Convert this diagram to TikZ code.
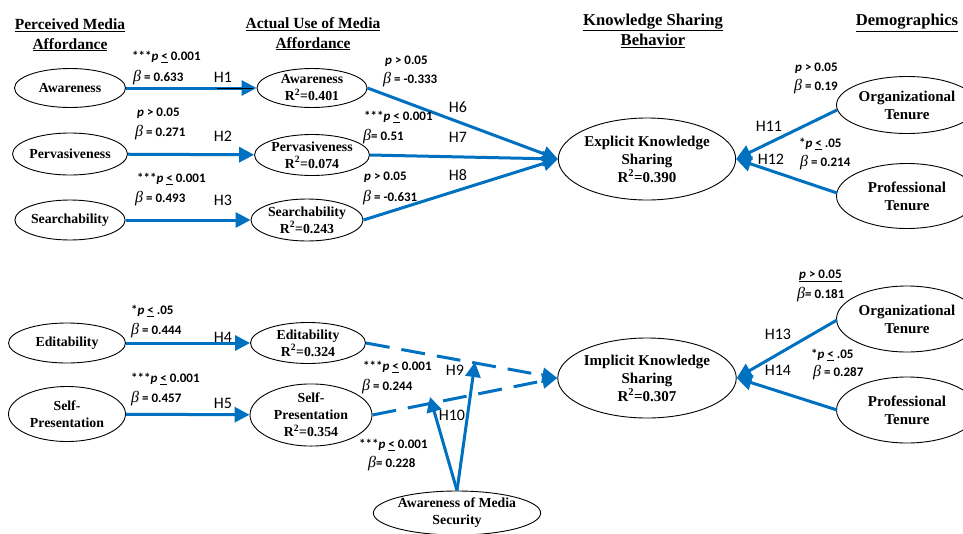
\documentclass[tikz,border=0pt]{standalone}
\usepackage{fontspec}
\setmainfont{Liberation Serif}
\newfontfamily\calib{Carlito}
\newfontfamily\betafont{Liberation Serif}
\usetikzlibrary{shapes.geometric,arrows.meta}
\definecolor{pathblue}{RGB}{0,112,192}

% statistic helpers
\newcommand\bsym{{\betafont\itshape\mdseries\fontsize{16}{16}\selectfont β}}
\newcommand\pit{\textit{p}}
\newcommand\uleq{\underline{<}}

\begin{document}
\begin{tikzpicture}[x=1pt,y=-1pt,
  var/.style={draw=black, line width=0.9pt, ellipse, inner sep=0pt, align=center,
    font=\fontsize{13.8}{17}\selectfont\bfseries},
  bigvar/.style={var, font=\fontsize{15}{18}\selectfont\bfseries},
  hdr/.style={inner sep=0pt, align=center, font=\fontsize{15.5}{19.5}\selectfont\bfseries},
  widehdr/.style={hdr, font=\fontsize{16.6}{20.5}\selectfont\bfseries},
  stat/.style={anchor=west, inner sep=0pt, font=\calib\fontsize{13}{15}\selectfont\bfseries},
  hyp/.style={inner sep=0pt, font=\calib\fontsize{16}{18}\selectfont},
  link/.style={draw=pathblue, line width=3pt, -{Triangle[length=15pt,width=15pt]}},
  modlink/.style={link, dash pattern=on 24pt off 12pt}
]
\useasboundingbox (0,0) rectangle (963,533);
\clip (0,0) rectangle (963,533);

% column headings
\node[hdr] (h1) at (70,35) {\underline{Perceived Media}\\\underline{Affordance}};
\node[hdr] (h2) at (313,34) {\underline{Actual Use of Media}\\\underline{Affordance}};
\node[widehdr] (h3) at (653,31) {\underline{Knowledge Sharing}\\\underline{Behavior}};
\node[widehdr] (h4) at (907,23) {\underline{Demographics}};

% perceived affordances
\node[var, minimum width=111, minimum height=39] (aw) at (70,88) {Awareness};
\node[var, minimum width=110, minimum height=42] (pe) at (70,154) {Pervasiveness};
\node[var, minimum width=110, minimum height=40] (se) at (70,220) {Searchability};
\node[var, minimum width=117, minimum height=40] (ed) at (67,343) {Editability};
\node[var, minimum width=117, minimum height=55] (sp) at (67,414) {Self-\\Presentation};

% actual use
\node[var, minimum width=110, minimum height=39] (aw2) at (312,88) {Awareness\\R\textsuperscript{2}=0.401};
\node[var, minimum width=110, minimum height=41] (pe2) at (312,155) {Pervasiveness\\R\textsuperscript{2}=0.074};
\node[var, minimum width=112, minimum height=42] (se2) at (307,220) {Searchability\\R\textsuperscript{2}=0.243};
\node[var, minimum width=115, minimum height=41] (ed2) at (308,343) {Editability\\R\textsuperscript{2}=0.324};
\node[var, minimum width=122, minimum height=54] (sp2) at (311,415) {Self-\\Presentation\\R\textsuperscript{2}=0.354};

% knowledge sharing
\node[bigvar, minimum width=169, minimum height=82] (eks) at (647,159) {Explicit Knowledge\\Sharing\\R\textsuperscript{2}=0.390};
\node[bigvar, minimum width=169, minimum height=80] (iks) at (647,378) {Implicit Knowledge\\Sharing\\R\textsuperscript{2}=0.307};

% demographics
\node[bigvar, minimum width=141, minimum height=57] (ot1) at (907,105) {Organizational\\Tenure};
\node[bigvar, minimum width=141, minimum height=65] (pt1) at (907,196) {Professional\\Tenure};
\node[bigvar, minimum width=141, minimum height=66] (ot2) at (907,319) {Organizational\\Tenure};
\node[bigvar, minimum width=141, minimum height=66] (pt2) at (907,410) {Professional\\Tenure};

% moderator
\node[var, minimum width=157, minimum height=44] (ams) at (457,513) {Awareness of Media\\Security};

% paths
\draw[link] (aw) -- (aw2);
\coordinate (tickA) at (217,88);
\coordinate (tickB) at (253,88);
\draw[black, line width=0.8pt] (tickA) -- (tickB);
\draw[link] (pe) -- (pe2);
\draw[link] (se.east) -- (se2.west);
\draw[link] (ed) -- (ed2);
\draw[link] (sp) -- (sp2);

\draw[link] (aw2.east) -- (eks.west);
\draw[link] (pe2.east) -- (eks.west);
\draw[link] (se2.east) -- (eks.west);

\coordinate (ot1p) at (837,110);
\coordinate (pt1p) at (837,193);
\coordinate (ot2p) at (837,320);
\coordinate (pt2p) at (837,410);
\draw[link] (ot1p) -- (eks.east);
\draw[link] (pt1p) -- (eks.east);
\draw[link] (ot2p) -- (iks.east);
\draw[link] (pt2p) -- (iks.east);

\draw[modlink] (ed2.east) -- (iks.west);
\draw[modlink] (sp2.east) -- (iks.west);

\coordinate (m9) at (475,362);
\coordinate (m10) at (430,397);
\draw[link] (ams.north) -- (m9);
\draw[link] (ams.north) -- (m10);

% hypothesis labels
\node[hyp] (H1) at (223,77) {H1};
\node[hyp] (H2) at (223,136) {H2};
\node[hyp] (H3) at (223,200) {H3};
\node[hyp] (H4) at (223,337) {H4};
\node[hyp] (H5) at (223,403) {H5};
\node[hyp] (H6) at (458,107) {H6};
\node[hyp] (H7) at (458,137) {H7};
\node[hyp] (H8) at (458,175) {H8};
\node[hyp] (H9) at (455,370) {H9};
\node[hyp] (H10) at (452,415) {H10};
\node[hyp] (H11) at (769,126) {H11};
\node[hyp] (H12) at (771,159) {H12};
\node[hyp] (H13) at (778,334) {H13};
\node[hyp] (H14) at (778,370) {H14};

% path statistics
\node[stat] (s1a) at (132,57) {***\pit\ \uleq\ 0.001};
\node[stat] (s1b) at (133,78) {\bsym\ = 0.633};
\node[stat] (s2a) at (137,113) {\pit\ > 0.05};
\node[stat] (s2b) at (135,133) {\bsym\ = 0.271};
\node[stat] (s3a) at (137,179) {***\pit\ \uleq\ 0.001};
\node[stat] (s3b) at (135,199) {\bsym\ = 0.493};
\node[stat] (s4a) at (131,311) {*\pit\ \uleq\ .05};
\node[stat] (s4b) at (131,331) {\bsym\ = 0.444};
\node[stat] (s5a) at (131,379) {***\pit\ \uleq\ 0.001};
\node[stat] (s5b) at (131,399) {\bsym\ = 0.457};
\node[stat] (s6a) at (385,61) {\pit\ > 0.05};
\node[stat] (s6b) at (383,80) {\bsym\ = -0.333};
\node[stat] (s7a) at (364,117) {***\pit\ \uleq\ 0.001};
\node[stat] (s7b) at (363,137) {\bsym= 0.51};
\node[stat] (s8a) at (364,177) {\pit\ > 0.05};
\node[stat] (s8b) at (363,198) {\bsym\ = -0.631};
\node[stat] (s9a) at (363,367) {***\pit\ \uleq\ 0.001};
\node[stat] (s9b) at (362,387) {\bsym\ = 0.244};
\node[stat] (s10a) at (359,445) {***\pit\ \uleq\ 0.001};
\node[stat] (s10b) at (368,464) {\bsym= 0.228};
\node[stat] (s11a) at (795,68) {\pit\ > 0.05};
\node[stat] (s11b) at (794,87) {\bsym\ = 0.19};
\node[stat] (s12a) at (799,144) {*\pit\ \uleq\ .05};
\node[stat] (s12b) at (800,163) {\bsym\ = 0.214};
\node[stat] (s13a) at (799,276) {\underline{\pit\ > 0.05}};
\node[stat] (s13b) at (797,295) {\bsym= 0.181};
\node[stat] (s14a) at (811,355) {*\pit\ \uleq\ .05};
\node[stat] (s14b) at (813,373) {\bsym\ = 0.287};
\end{tikzpicture}
\end{document}
